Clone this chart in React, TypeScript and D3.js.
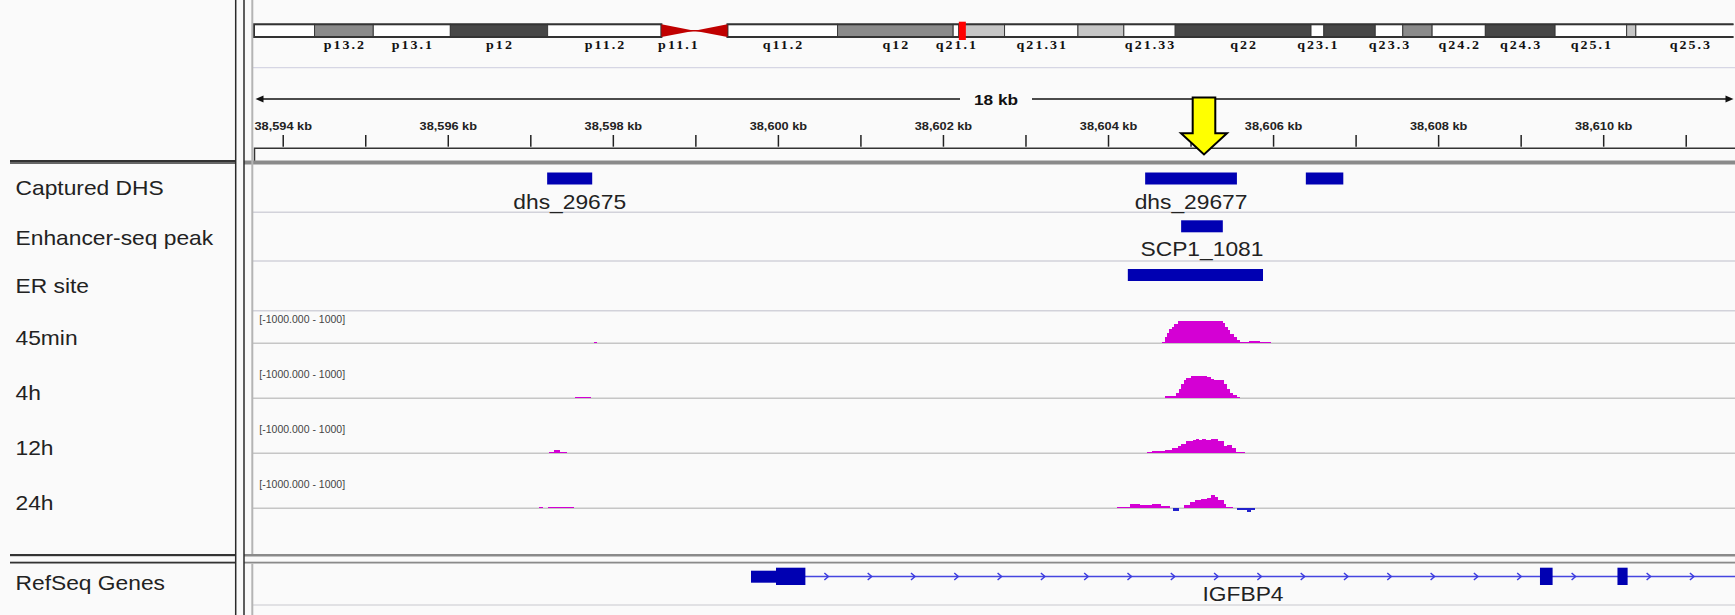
import React from 'react';
import * as d3 from 'd3';

const W = 1735;
const H = 615;

// ---------- chromosome 17 ideogram (hg19, Mb) ----------
const bandNames = ['p13.3','p13.2','p13.1','p12','p11.2','p11.1','q11.1','q11.2','q12','q21.1','q21.2','q21.31','q21.32','q21.33','q22','q23.1','q23.2','q23.3','q24.1','q24.2','q24.3','q25.1','q25.2','q25.3'];
const bandStarts = [0, 3.3, 6.5, 10.7, 16.0, 22.2, 24.0, 25.8, 31.8, 38.1, 38.4, 40.9, 44.9, 47.4, 50.2, 57.6, 58.3, 61.1, 62.6, 64.2, 67.1, 70.9, 74.8, 75.3];
const bandEnds = [3.3, 6.5, 10.7, 16.0, 22.2, 24.0, 25.8, 31.8, 38.1, 38.4, 40.9, 44.9, 47.4, 50.2, 57.6, 58.3, 61.1, 62.6, 64.2, 67.1, 70.9, 74.8, 75.3, 81.195];
const bandStains = ['gneg','gpos50','gneg','gpos75','gneg','acen','acen','gneg','gpos50','gneg','gpos25','gneg','gpos25','gneg','gpos75','gneg','gpos75','gneg','gpos50','gneg','gpos75','gneg','gpos25','gneg'];
const labeledBands = ['p13.2','p13.1','p12','p11.2','p11.1','q11.2','q12','q21.1','q21.31','q21.33','q22','q23.1','q23.3','q24.2','q24.3','q25.1','q25.3'];
const chromLengthMb = 81.195;
const currentPosMb = 38.6;

// ---------- locus (kb) ----------
const viewStartKb = 38593.652;
const viewEndKb = 38611.573;
const rulerLabelKb = [38594, 38596, 38598, 38600, 38602, 38604, 38606, 38608, 38610];
const arrowKb = 38605.157;

// ---------- feature tracks ----------
const dhsFeatures = [
  { name: 'dhs_29675', start: 38597.198, end: 38597.744, label: true },
  { name: 'dhs_29677', start: 38604.444, end: 38605.556, label: true },
  { name: 'dhs_29678', start: 38606.391, end: 38606.845, label: false },
];
const enhancerPeaks = [
  { name: 'SCP1_1081', start: 38604.880, end: 38605.385, label: true },
];
const erSites = [
  { name: 'ER', start: 38604.234, end: 38605.872, label: false },
];

// ---------- signal tracks: [startKb, endKb, value] ----------
const sig45min = [
  [38597.763, 38597.806, 70],
  [38604.643, 38604.680, 60], [38604.680, 38604.703, 300], [38604.703, 38604.736, 480], [38604.736, 38604.764, 640],
  [38604.764, 38604.796, 730], [38604.796, 38604.842, 880], [38604.842, 38605.385, 1000], [38605.385, 38605.413, 910],
  [38605.413, 38605.445, 730], [38605.445, 38605.478, 580], [38605.478, 38605.515, 420], [38605.515, 38605.561, 300],
  [38605.561, 38605.598, 150], [38605.598, 38605.700, 60], [38605.700, 38605.830, 120], [38605.830, 38605.969, 60],
];
const sig4h = [
  [38597.536, 38597.725, 60],
  [38604.689, 38604.819, 106], [38604.819, 38604.852, 227], [38604.852, 38604.880, 424], [38604.880, 38604.912, 636],
  [38604.912, 38604.944, 833], [38604.944, 38605.005, 909], [38605.005, 38605.190, 1000], [38605.190, 38605.237, 955],
  [38605.237, 38605.283, 879], [38605.283, 38605.399, 803], [38605.399, 38605.431, 651], [38605.431, 38605.468, 409],
  [38605.468, 38605.505, 258], [38605.505, 38605.552, 167], [38605.552, 38605.594, 45],
];
const sig12h = [
  [38597.222, 38597.276, 80], [38597.276, 38597.357, 150], [38597.357, 38597.439, 80],
  [38604.462, 38604.532, 60], [38604.532, 38604.680, 121], [38604.680, 38604.764, 167], [38604.764, 38604.842, 242],
  [38604.842, 38604.880, 333], [38604.880, 38604.935, 424], [38604.935, 38605.028, 530], [38605.028, 38605.065, 606],
  [38605.065, 38605.097, 650], [38605.097, 38605.135, 606], [38605.135, 38605.181, 650], [38605.181, 38605.237, 576],
  [38605.237, 38605.329, 650], [38605.329, 38605.399, 530], [38605.399, 38605.431, 333], [38605.431, 38605.492, 379],
  [38605.492, 38605.547, 227], [38605.547, 38605.654, 76],
];
const sig24h = [
  [38597.097, 38597.151, 60], [38597.211, 38597.520, 60],
  [38604.100, 38604.263, 60], [38604.263, 38604.379, 182], [38604.379, 38604.532, 136], [38604.532, 38604.634, 182],
  [38604.634, 38604.750, 121], [38604.787, 38604.856, -100], [38604.912, 38604.982, 136], [38604.982, 38605.051, 288],
  [38605.051, 38605.121, 364], [38605.121, 38605.190, 424], [38605.190, 38605.237, 470], [38605.237, 38605.292, 576],
  [38605.292, 38605.329, 500], [38605.329, 38605.399, 364], [38605.399, 38605.422, 212], [38605.422, 38605.505, 60],
  [38605.552, 38605.677, -60], [38605.677, 38605.723, -150], [38605.723, 38605.779, -60],
];
const signalNames = ['45min', '4h', '12h', '24h'];
const signalData = [sig45min, sig4h, sig12h, sig24h];
const signalRange = [-1000, 1000];

// ---------- gene ----------
const geneName = 'IGFBP4';
const geneStartKb = 38599.668;
const geneEndKb = 38613.981;
const geneExons = [
  { start: 38599.668, end: 38599.971, coding: false },
  { start: 38599.971, end: 38600.327, coding: true },
  { start: 38609.228, end: 38609.381, coding: true },
  { start: 38610.167, end: 38610.290, coding: true },
];

const SANS = "'Liberation Sans', Arial, Helvetica, sans-serif";
const SERIF = "'Liberation Serif', 'Times New Roman', serif";

type TP = {
  x: number; y: number; sx?: number; anchor?: string; size?: number; weight?: string;
  family?: string; fill?: string; ls?: number; children: React.ReactNode;
};
function T({ x, y, sx = 1.14, anchor = 'start', size = 20, weight = 'normal', family = SANS, fill = '#222', ls = 0, children }: TP) {
  return (
    <text transform={`translate(${x},${y}) scale(${sx},1)`} textAnchor={anchor as any} fontSize={size}
      fontWeight={weight} fontFamily={family} fill={fill} letterSpacing={ls}>
      {children}
    </text>
  );
}

const stainColor: Record<string, string> = {
  gneg: '#ffffff', gpos25: '#c6c6c6', gpos50: '#8a8a8a', gpos75: '#474747', gpos100: '#000000', acen: '#c00000',
};

export default function App() {
  const dataLeft = 254.5;
  const dataRight = 1733.5;
  const x = d3.scaleLinear().domain([viewStartKb, viewEndKb]).range([dataLeft, dataRight]);
  const ideo = d3.scaleLinear().domain([0, chromLengthMb]).range([254, 1744]);

  const iTop = 24.3, iH = 12.7, iMid = iTop + iH / 2;

  const bands = bandNames.map((n, i) => ({ name: n, start: bandStarts[i], end: bandEnds[i], stain: bandStains[i] }));
  const pArmEnd = bands.find(b => b.name === 'p11.1')!.start;
  const qArmStart = bands.find(b => b.name === 'q11.1')!.end;
  const cenMid = bands.find(b => b.name === 'p11.1')!.end;

  const rulerY = 99;
  const cx = (dataLeft + dataRight) / 2;
  const spanKb = Math.round(viewEndKb - viewStartKb);
  const minorTicks = d3.range(Math.ceil(viewStartKb), Math.floor(viewEndKb) + 1);

  const featureTracks = [
    { name: 'Captured DHS', top: 164.5, bottom: 212.3, nameY: 195, feats: dhsFeatures },
    { name: 'Enhancer-seq peak', top: 212.3, bottom: 261, nameY: 245, feats: enhancerPeaks },
    { name: 'ER site', top: 261, bottom: 310.7, nameY: 293.3, feats: erSites },
  ];
  const signalBases = [343.3, 398.3, 453.3, 508.3];
  const halfH = 22.3;

  const xa = x(arrowKb);

  // gene
  const gy = 576.5;
  const gx0 = x(geneStartKb);
  const gx1 = Math.min(x(geneEndKb), W);
  const introns: [number, number][] = [];
  for (let i = 1; i < geneExons.length; i++) {
    if (geneExons[i].start > geneExons[i - 1].end) introns.push([x(geneExons[i - 1].end), x(geneExons[i].start)]);
  }
  introns.push([x(geneExons[geneExons.length - 1].end), gx1]);
  const chevrons = introns.flatMap(([a, b]) => d3.range(a + 21, b - 12, 43.3));

  const barsPath = (data: number[][], ys: d3.ScaleLinear<number, number>, positive: boolean) => {
    const p = d3.path();
    const y0 = ys(0);
    data.filter(d => (positive ? d[2] >= 0 : d[2] < 0)).forEach(d => {
      const x0 = x(d[0]);
      const w = Math.max(1, x(d[1]) - x0);
      const yv = ys(d[2]);
      const top = Math.min(yv, y0);
      const h = Math.max(1, Math.abs(yv - y0));
      p.rect(x0, top, w, h);
    });
    return p.toString();
  };

  return (
    <svg width={W} height={H} style={{ position: 'absolute', left: 0, top: 0 }}>
      <defs>
        <clipPath id="ideoClip"><rect x={250} y={0} width={dataRight - 250} height={60} /></clipPath>
        <clipPath id="dataClip"><rect x={253.5} y={0} width={W - 253.5} height={H} /></clipPath>
      </defs>
      <rect width={W} height={H} fill="#fafafa" />

      {/* ideogram */}
      <g clipPath="url(#ideoClip)">
        {bands.filter(b => b.stain !== 'acen').map(b => (
          <rect key={b.name} x={ideo(b.start)} y={iTop} width={ideo(b.end) - ideo(b.start)} height={iH}
            fill={stainColor[b.stain]} stroke="#3a3a3a" strokeWidth={1} />
        ))}
        <rect x={ideo(0)} y={iTop} width={ideo(pArmEnd) - ideo(0)} height={iH} fill="none" stroke="#333" strokeWidth={2} />
        <rect x={ideo(qArmStart)} y={iTop} width={ideo(chromLengthMb) - ideo(qArmStart)} height={iH} fill="none" stroke="#333" strokeWidth={2} />
        <polygon points={`${ideo(pArmEnd)},${iTop} ${ideo(pArmEnd)},${iTop + iH} ${ideo(cenMid)},${iMid}`} fill={stainColor.acen} />
        <polygon points={`${ideo(qArmStart)},${iTop} ${ideo(qArmStart)},${iTop + iH} ${ideo(cenMid)},${iMid}`} fill={stainColor.acen} />
        <line x1={ideo(pArmEnd)} x2={ideo(qArmStart)} y1={iMid} y2={iMid} stroke={stainColor.acen} strokeWidth={1.5} />
        <rect x={ideo(currentPosMb) - 3.5} y={21.7} width={7} height={18.3} fill="#ff0000" />
        {bands.filter(b => labeledBands.includes(b.name)).map(b => (
          <T key={b.name} x={ideo((b.start + b.end) / 2) + 1} y={48.5} anchor="middle" size={12.5} weight="bold"
            family={SERIF} sx={1.12} ls={1.8} fill="#111">{b.name}</T>
        ))}
      </g>
      <line x1={253} x2={W} y1={67.7} y2={67.7} stroke="#d6d6e4" strokeWidth={1.2} />

      {/* ruler */}
      <line x1={dataLeft + 4} x2={cx - 34} y1={rulerY} y2={rulerY} stroke="#111" strokeWidth={1.3} />
      <line x1={cx + 38} x2={dataRight - 4} y1={rulerY} y2={rulerY} stroke="#111" strokeWidth={1.3} />
      <polygon points={`${dataLeft + 1},${rulerY} ${dataLeft + 9},${rulerY - 3.5} ${dataLeft + 9},${rulerY + 3.5}`} fill="#111" />
      <polygon points={`${dataRight},${rulerY} ${dataRight - 8},${rulerY - 3.5} ${dataRight - 8},${rulerY + 3.5}`} fill="#111" />
      <T x={cx + 2} y={104.5} anchor="middle" size={15} weight="bold" sx={1.15} fill="#111">{`${spanKb} kb`}</T>
      {minorTicks.map(k => (
        <line key={k} x1={x(k)} x2={x(k)} y1={135} y2={146.7} stroke="#222" strokeWidth={1.5} />
      ))}
      {rulerLabelKb.map(k => (
        <T key={k} x={x(k)} y={130} anchor="middle" size={11} weight="bold" sx={1.16} fill="#222">{`${d3.format(',')(k)} kb`}</T>
      ))}
      <path d={`M${dataLeft},161 V148.3 H${W}`} fill="none" stroke="#333" strokeWidth={1.5} />

      {/* header separators */}
      <rect x={10} y={160} width={225.7} height={2} fill="#333" />
      <rect x={10} y={162} width={225.7} height={2} fill="#666" />
      <rect x={244} y={160.5} width={W - 244} height={4} fill="#8a8a8a" />

      {/* feature tracks */}
      {featureTracks.map(tr => (
        <g key={tr.name}>
          <T x={15.5} y={tr.nameY}>{tr.name}</T>
          <line x1={253} x2={W} y1={tr.bottom} y2={tr.bottom} stroke="#d2d2da" strokeWidth={1.5} />
          <g clipPath="url(#dataClip)">
            {tr.feats.map(f => (
              <g key={f.name}>
                <rect x={x(f.start)} y={tr.top + 8} width={x(f.end) - x(f.start)} height={12} fill="#0000b2" />
                {f.label && <T x={x((f.start + f.end) / 2)} y={tr.top + 44} anchor="middle">{f.name}</T>}
              </g>
            ))}
          </g>
        </g>
      ))}

      {/* signal tracks */}
      {signalNames.map((name, i) => {
        const base = signalBases[i];
        const ys = d3.scaleLinear().domain(signalRange).range([base + halfH, base - halfH]).clamp(true);
        return (
          <g key={name}>
            <T x={15.5} y={base + 2}>{name}</T>
            <T x={259.3} y={base - 20} size={10.5} sx={1} fill="#444">{`[${signalRange[0].toFixed(3)} - ${signalRange[1]}]`}</T>
            <line x1={253} x2={W} y1={base} y2={base} stroke="#c6c6c6" strokeWidth={1.5} />
            <g clipPath="url(#dataClip)">
              <path d={barsPath(signalData[i], ys, true)} fill="#d400d4" shapeRendering="crispEdges" />
              <path d={barsPath(signalData[i], ys, false)} fill="#2222cc" shapeRendering="crispEdges" />
            </g>
          </g>
        );
      })}

      {/* bottom panel separators */}
      <rect x={10} y={554} width={225.7} height={2.2} fill="#333" />
      <rect x={10} y={561.7} width={225.7} height={1.8} fill="#333" />
      <rect x={244} y={554} width={W - 244} height={2.5} fill="#8a8a8a" />
      <rect x={244} y={561.7} width={W - 244} height={1.8} fill="#8a8a8a" />

      {/* gene track */}
      <T x={15.5} y={590}>RefSeq Genes</T>
      <line x1={253} x2={W} y1={605} y2={605} stroke="#d8d8dc" strokeWidth={1.5} />
      <g clipPath="url(#dataClip)">
        <line x1={gx0} x2={gx1} y1={gy} y2={gy} stroke="#4646e0" strokeWidth={1.5} />
        {chevrons.map((c, i) => (
          <polyline key={i} points={`${c - 2},${gy - 3.5} ${c + 2},${gy} ${c - 2},${gy + 3.5}`} fill="none" stroke="#3c3ce0" strokeWidth={1.5} />
        ))}
        {geneExons.map((e, i) => (
          <rect key={i} x={x(e.start)} width={x(e.end) - x(e.start)} y={e.coding ? gy - 8.8 : gy - 5.8}
            height={e.coding ? 17.3 : 12} fill="#0000b2" />
        ))}
        <T x={(gx0 + gx1) / 2} y={600.7} anchor="middle">{geneName}</T>
      </g>

      {/* yellow arrow */}
      <polygon points={`${xa - 11.3},97.5 ${xa + 11.3},97.5 ${xa + 11.3},133.3 ${xa + 23},133.3 ${xa},154.5 ${xa - 23},133.3 ${xa - 11.3},133.3`}
        fill="#ffff00" stroke="#000" strokeWidth={2} strokeLinejoin="miter" />

      {/* panel dividers */}
      <line x1={235.7} x2={235.7} y1={0} y2={H} stroke="#2a2a2a" strokeWidth={1.5} />
      <line x1={244} x2={244} y1={0} y2={H} stroke="#2a2a2a" strokeWidth={1.5} />
      <line x1={252.3} x2={252.3} y1={0} y2={554} stroke="#b4b4b4" strokeWidth={2} />
      <line x1={252.3} x2={252.3} y1={563.5} y2={H} stroke="#b4b4b4" strokeWidth={2} />
    </svg>
  );
}
